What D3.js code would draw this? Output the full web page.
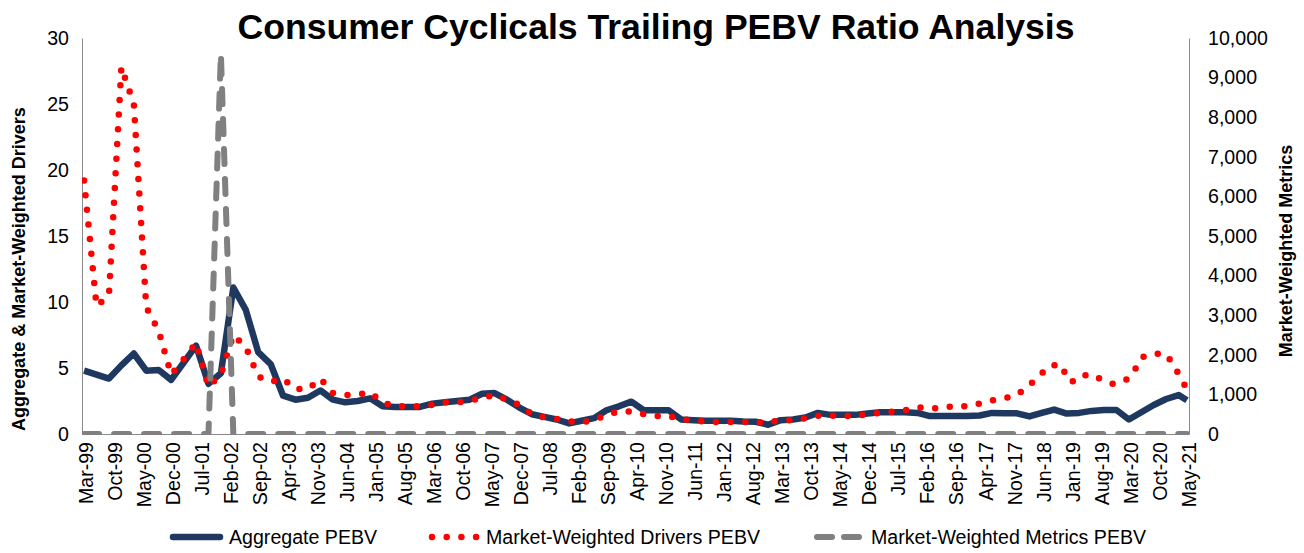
<!DOCTYPE html>
<html><head><meta charset="utf-8">
<script src="https://cdn.jsdelivr.net/npm/d3@7"></script>
<style>
body{margin:0;background:#fff;}
svg{display:block;font-family:"Liberation Sans",Arial,sans-serif;}
</style>
</head><body>
<svg id="chart" width="1304" height="553"></svg>
<script>
// ---------------- DATA ----------------
const chartTitle = "Consumer Cyclicals Trailing PEBV Ratio Analysis";
const leftAxisTitle = "Aggregate & Market-Weighted Drivers";
const rightAxisTitle = "Market-Weighted Metrics";
const seriesNames = ["Aggregate PEBV", "Market-Weighted Drivers PEBV", "Market-Weighted Metrics PEBV"];

const xTickLabels = ["Mar-99","Oct-99","May-00","Dec-00","Jul-01","Feb-02","Sep-02","Apr-03","Nov-03","Jun-04",
  "Jan-05","Aug-05","Mar-06","Oct-06","May-07","Dec-07","Jul-08","Feb-09","Sep-09","Apr-10","Nov-10","Jun-11",
  "Jan-12","Aug-12","Mar-13","Oct-13","May-14","Dec-14","Jul-15","Feb-16","Sep-16","Apr-17","Nov-17","Jun-18",
  "Jan-19","Aug-19","Mar-20","Oct-20","May-21"];
const leftTicks = [0,5,10,15,20,25,30];
const rightTicks = [0,1000,2000,3000,4000,5000,6000,7000,8000,9000,10000];

const aggDates = ["1999-03","1999-06","1999-09","1999-12","2000-03","2000-06","2000-09","2000-12",
  "2001-03","2001-06","2001-09","2001-12","2002-03","2002-06","2002-09","2002-12",
  "2003-03","2003-06","2003-09","2003-12","2004-03","2004-06","2004-09","2004-12",
  "2005-03","2005-06","2005-09","2005-12","2006-03","2006-06","2006-09","2006-12",
  "2007-03","2007-06","2007-09","2007-12","2008-03","2008-06","2008-09","2008-12",
  "2009-03","2009-06","2009-09","2009-12","2010-03","2010-06","2010-09","2010-12",
  "2011-03","2011-06","2011-09","2011-12","2012-03","2012-06","2012-09","2012-12",
  "2013-03","2013-06","2013-09","2013-12","2014-03","2014-06","2014-09","2014-12",
  "2015-03","2015-06","2015-09","2015-12","2016-03","2016-06","2016-09","2016-12",
  "2017-03","2017-06","2017-09","2017-12","2018-03","2018-06","2018-09","2018-12",
  "2019-03","2019-06","2019-09","2019-12","2020-03","2020-06","2020-09","2020-12",
  "2021-03","2021-05"];
const aggValues = [4.8,4.5,4.2,5.2,6.1,4.8,4.85,4.1,
  5.4,6.7,3.8,4.6,11.1,9.4,6.2,5.3,
  2.9,2.6,2.75,3.3,2.6,2.4,2.5,2.7,
  2.1,2.05,2.05,2.05,2.3,2.4,2.5,2.6,
  3.05,3.1,2.6,2.0,1.5,1.3,1.1,0.8,
  1.0,1.2,1.8,2.1,2.45,1.8,1.8,1.8,
  1.1,1.05,1.0,1.0,1.0,0.95,0.93,0.7,
  1.05,1.1,1.25,1.6,1.45,1.45,1.45,1.55,
  1.65,1.65,1.65,1.6,1.36,1.36,1.36,1.36,
  1.4,1.6,1.57,1.57,1.33,1.6,1.85,1.55,
  1.6,1.75,1.82,1.82,1.1,1.65,2.2,2.65,
  2.95,2.55];

const driversDates = ["1999-03","1999-06","1999-09","1999-12","2000-03","2000-06","2000-09","2000-12",
  "2001-03","2001-06","2001-09","2001-12","2002-03","2002-06","2002-09","2002-12",
  "2003-03","2003-06","2003-09","2003-12","2004-03","2004-06","2004-09","2004-12",
  "2005-03","2005-06","2005-09","2005-12","2006-03","2006-06","2006-09","2006-12",
  "2007-03","2007-06","2007-09","2007-12","2008-03","2008-06","2008-09","2008-12",
  "2009-03","2009-06","2009-09","2009-12","2010-03","2010-06","2010-09","2010-12",
  "2011-03","2011-06","2011-09","2011-12","2012-03","2012-06","2012-09","2012-12",
  "2013-03","2013-06","2013-09","2013-12","2014-03","2014-06","2014-09","2014-12",
  "2015-03","2015-06","2015-09","2015-12","2016-03","2016-06","2016-09","2016-12",
  "2017-03","2017-06","2017-09","2017-12","2018-03","2018-06","2018-08","2018-11",
  "2018-12","2019-02","2019-05","2019-08","2019-11","2020-02","2020-04","2020-06",
  "2020-09","2020-12","2021-02","2021-04","2021-05"];
const driversValues = [19.2,9.7,10.5,27.8,25.0,9.6,7.8,4.5,
  5.65,6.9,3.6,4.5,7.5,6.6,4.35,3.95,
  4.2,3.4,3.4,4.2,3.1,2.95,3.0,3.15,
  2.4,2.1,2.1,2.1,2.2,2.4,2.4,2.5,
  2.75,2.95,2.6,2.2,1.5,1.25,1.15,0.95,
  0.9,1.05,1.45,1.7,1.7,1.5,1.36,1.36,
  1.1,1.05,0.92,0.9,0.9,0.9,0.9,0.89,
  1.02,1.06,1.2,1.38,1.38,1.36,1.36,1.5,
  1.6,1.7,1.8,2.02,1.95,1.95,2.15,2.1,
  2.3,2.55,2.7,2.95,3.7,4.6,5.2,5.2,
  4.1,3.95,4.55,4.2,3.8,4.0,4.6,5.8,
  6.1,6.05,5.1,3.95,3.4];

const metricsDates = ["1999-03","2001-09","2001-12","2002-03","2021-05"];
const metricsValues = [0,0,9600,0,0];

// ---------------- LAYOUT ----------------
const svg = d3.select("#chart");
const plot = {left:82, right:1189, top:38, bottom:434};
const monthIndex = s => { const [y,mo] = s.split("-").map(Number); return (y-1999)*12 + (mo-3); };
const monNames = ["Jan","Feb","Mar","Apr","May","Jun","Jul","Aug","Sep","Oct","Nov","Dec"];
const labelIndex = l => { const [mn,yy] = l.split("-"); const y = +yy < 50 ? 2000 + +yy : 1900 + +yy;
  return (y-1999)*12 + monNames.indexOf(mn) - 2; };

const x = d3.scaleLinear().domain([-0.5, 266.5]).range([plot.left, plot.right]);
const yL = d3.scaleLinear().domain([0,30]).range([plot.bottom, plot.top]);
const yR = d3.scaleLinear().domain([0,10000]).range([plot.bottom, plot.top]);

const axisColor = "#898989";
const fs = 19.6;

// Title
svg.append("text").attr("x", 656).attr("y", 39).attr("text-anchor","middle")
  .attr("font-size", 35.6).attr("font-weight","bold").attr("fill","#000").text(chartTitle);

// Left axis
const gL = svg.append("g").attr("transform", `translate(${plot.left},0)`)
  .call(d3.axisLeft(yL).tickValues(leftTicks).tickSize(0).tickPadding(13));
gL.select(".domain").attr("stroke", axisColor);
gL.selectAll("text").attr("font-size", fs).attr("font-family","Liberation Sans, Arial").attr("fill","#000");

// Right axis
const gR = svg.append("g").attr("transform", `translate(${plot.right},0)`)
  .call(d3.axisRight(yR).tickValues(rightTicks).tickSize(0).tickPadding(19).tickFormat(d3.format(",")));
gR.select(".domain").attr("stroke", axisColor);
gR.selectAll("text").attr("font-size", fs).attr("font-family","Liberation Sans, Arial").attr("fill","#000");

// Bottom axis
const gB = svg.append("g").attr("transform", `translate(0,${plot.bottom})`)
  .call(d3.axisBottom(x).tickValues(xTickLabels.map(labelIndex)).tickSize(0)
    .tickFormat((d,i) => xTickLabels[i]));
gB.select(".domain").attr("stroke", axisColor);
gB.selectAll("text").attr("font-size", fs).attr("font-family","Liberation Sans, Arial").attr("fill","#000")
  .attr("transform","rotate(-90)").attr("x",-8).attr("y",0).attr("dy","0.42em").style("text-anchor","end");

// Axis titles
svg.append("text").attr("transform","translate(25,269) rotate(-90)").attr("text-anchor","middle")
  .attr("font-size",18).attr("font-weight","bold").text(leftAxisTitle);
svg.append("text").attr("transform","translate(1292,251) rotate(-90)").attr("text-anchor","middle")
  .attr("font-size",18).attr("font-weight","bold").text(rightAxisTitle);

// Clip
svg.append("clipPath").attr("id","clip").append("rect")
  .attr("x", plot.left).attr("y", plot.top - 10).attr("width", plot.right - plot.left).attr("height", plot.bottom - plot.top + 11);

const lines = svg.append("g").attr("clip-path","url(#clip)");
const toPts = (ds, vs) => ds.map((d,i) => ({m: monthIndex(d), v: vs[i]}));

const lineL = d3.line().x(d => x(d.m)).y(d => yL(d.v));
const lineR = d3.line().x(d => x(d.m)).y(d => yR(d.v));

const blue = "#1F3860", red = "#FF0000", gray = "#808080";

lines.append("path").datum(toPts(aggDates, aggValues)).attr("d", lineL)
  .attr("fill","none").attr("stroke", blue).attr("stroke-width", 6.5).attr("stroke-linejoin","round");
lines.append("path").datum(toPts(driversDates, driversValues)).attr("d", lineL)
  .attr("fill","none").attr("stroke", red).attr("stroke-width", 6.5)
  .attr("stroke-linecap","round").attr("stroke-dasharray","0 14.7");
lines.append("path").datum(toPts(metricsDates, metricsValues)).attr("d", lineR)
  .attr("fill","none").attr("stroke", gray).attr("stroke-width", 6)
  .attr("stroke-linecap","round").attr("stroke-dasharray","15 15");

// Legend
const ly = 537;
const leg = svg.append("g");
leg.append("line").attr("x1",173).attr("x2",220).attr("y1",ly).attr("y2",ly)
  .attr("stroke",blue).attr("stroke-width",6.5).attr("stroke-linecap","round");
leg.append("text").attr("x",229).attr("y",ly).attr("dy","0.35em").attr("font-size",fs).text(seriesNames[0]);
leg.append("line").attr("x1",432).attr("x2",477).attr("y1",ly).attr("y2",ly)
  .attr("stroke",red).attr("stroke-width",6.5).attr("stroke-linecap","round").attr("stroke-dasharray","0 14.7");
leg.append("text").attr("x",486).attr("y",ly).attr("dy","0.35em").attr("font-size",fs).text(seriesNames[1]);
leg.append("line").attr("x1",817).attr("x2",859).attr("y1",ly).attr("y2",ly)
  .attr("stroke",gray).attr("stroke-width",6).attr("stroke-linecap","round").attr("stroke-dasharray","15 12");
leg.append("text").attr("x",871).attr("y",ly).attr("dy","0.35em").attr("font-size",fs).text(seriesNames[2]);
</script>
</body></html>
